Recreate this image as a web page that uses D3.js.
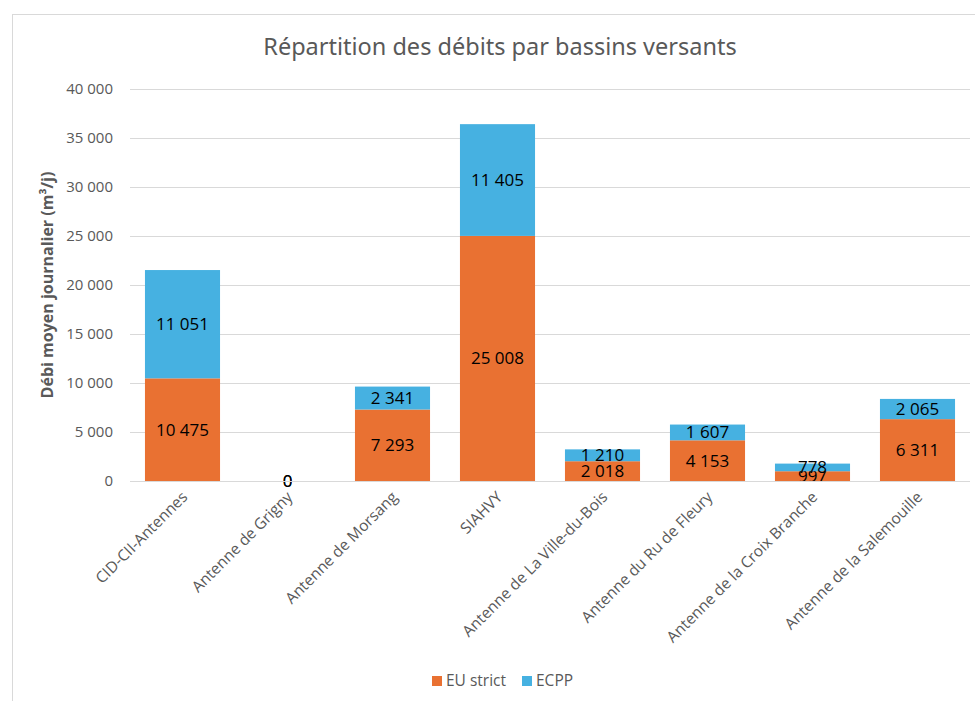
<!DOCTYPE html>
<html>
<head>
<meta charset="utf-8">
<script src="https://cdn.jsdelivr.net/npm/d3@7"></script>
<style>
  body { margin: 0; background: #fff; }
  svg { display: block; font-family: "Open Sans", "Noto Sans", sans-serif; }
</style>
</head>
<body>
<div id="chart"></div>
<script>
const categories = [
  'CID-CII-Antennes',
  'Antenne de Grigny',
  'Antenne de Morsang',
  'SIAHVY',
  'Antenne de La Ville-du-Bois',
  'Antenne du Ru de Fleury',
  'Antenne de la Croix Branche',
  'Antenne de la Salemouille',
];
const euStrict = [10475, 0, 7293, 25008, 2018, 4153, 997, 6311];
const ecpp = [11051, 0, 2341, 11405, 1210, 1607, 778, 2065];
const seriesNames = ['EU strict', 'ECPP'];
const yTicks = [0, 5000, 10000, 15000, 20000, 25000, 30000, 35000, 40000];

const width = 975;
const height = 701;
const margin = { top: 89, right: 5, bottom: 220, left: 130 };
const colors = ['#E97132', '#46B1E1'];
const textColor = '#595959';

const locale = d3.formatLocale({ decimal: ',', thousands: ' ', grouping: [3], currency: ['', ' €'] });
const fmt = locale.format(',d');

const svg = d3.select('#chart')
  .append('svg')
  .attr('width', width)
  .attr('height', height);

// chart frame
svg.append('rect')
  .attr('x', 12.5).attr('y', 14.5)
  .attr('width', width).attr('height', height)
  .attr('fill', '#fff')
  .attr('stroke', '#d9d9d9');

const x = d3.scaleBand()
  .domain(categories)
  .range([margin.left, width - margin.right])
  .paddingInner(0.285)
  .paddingOuter(0.1425);

const y = d3.scaleLinear()
  .domain([0, 40000])
  .range([height - margin.bottom, margin.top]);

// gridlines
svg.append('g')
  .selectAll('line')
  .data(yTicks)
  .join('line')
  .attr('x1', margin.left)
  .attr('x2', width - margin.right)
  .attr('y1', (d) => Math.round(y(d)) + 0.5)
  .attr('y2', (d) => Math.round(y(d)) + 0.5)
  .attr('stroke', '#d9d9d9');

// y axis labels
const yAxis = svg.append('g')
  .attr('transform', `translate(${margin.left - 14},0)`)
  .call(d3.axisLeft(y).tickValues(yTicks).tickFormat(fmt).tickSize(0));
yAxis.select('.domain').remove();
yAxis.selectAll('text')
  .attr('fill', textColor)
  .style('font-size', '15px')
  .style('font-family', '"Open Sans", sans-serif');

// y axis title
svg.append('text')
  .attr('transform', `translate(53,${(y(0) + y(40000)) / 2}) rotate(-90)`)
  .attr('text-anchor', 'middle')
  .attr('fill', textColor)
  .style('font-size', '16px')
  .style('font-weight', 'bold')
  .text('Débi moyen journalier (m³/j)');

// stacked bars
const rows = categories.map((c, i) => ({ cat: c, eu: euStrict[i], ecpp: ecpp[i] }));
const stack = d3.stack().keys(['eu', 'ecpp'])(rows);

const layers = svg.append('g')
  .selectAll('g')
  .data(stack)
  .join('g')
  .attr('fill', (d, i) => colors[i]);

layers.selectAll('rect')
  .data((d) => d)
  .join('rect')
  .attr('x', (d) => x(d.data.cat))
  .attr('y', (d) => y(d[1]))
  .attr('width', x.bandwidth())
  .attr('height', (d) => y(d[0]) - y(d[1]));

// baseline
svg.append('line')
  .attr('x1', margin.left)
  .attr('x2', width - margin.right)
  .attr('y1', Math.round(y(0)) + 0.5)
  .attr('y2', Math.round(y(0)) + 0.5)
  .attr('stroke', '#d9d9d9');

// data labels
layers.selectAll('text')
  .data((d) => d)
  .join('text')
  .attr('x', (d) => x(d.data.cat) + x.bandwidth() / 2)
  .attr('y', (d) => (y(d[0]) + y(d[1])) / 2)
  .attr('dy', '0.35em')
  .attr('text-anchor', 'middle')
  .attr('fill', '#000')
  .style('font-size', '17px')
  .text((d) => fmt(d[1] - d[0]));

// x axis labels
svg.append('g')
  .selectAll('text')
  .data(categories)
  .join('text')
  .attr('transform', (d) => `translate(${x(d) + x.bandwidth() / 2 + 6},${y(0) + 17}) rotate(-45)`)
  .attr('text-anchor', 'end')
  .attr('fill', textColor)
  .style('font-size', '15.5px')
  .text((d) => d);

// title
svg.append('text')
  .attr('x', 500)
  .attr('y', 55)
  .attr('text-anchor', 'middle')
  .attr('fill', textColor)
  .style('font-size', '23.5px')
  .style('font-family', '"Noto Sans", sans-serif')
  .text('Répartition des débits par bassins versants');

// legend
const legend = svg.append('g')
  .attr('transform', 'translate(432,681)');
const items = legend.selectAll('g')
  .data(seriesNames)
  .join('g')
  .attr('transform', (d, i) => `translate(${i * 90},0)`);
items.append('rect')
  .attr('x', 0).attr('y', -5)
  .attr('width', 10).attr('height', 10)
  .attr('fill', (d, i) => colors[i]);
items.append('text')
  .attr('x', 14)
  .attr('dy', '0.35em')
  .attr('fill', textColor)
  .style('font-size', '15.5px')
  .text((d) => d);
</script>
</body>
</html>
